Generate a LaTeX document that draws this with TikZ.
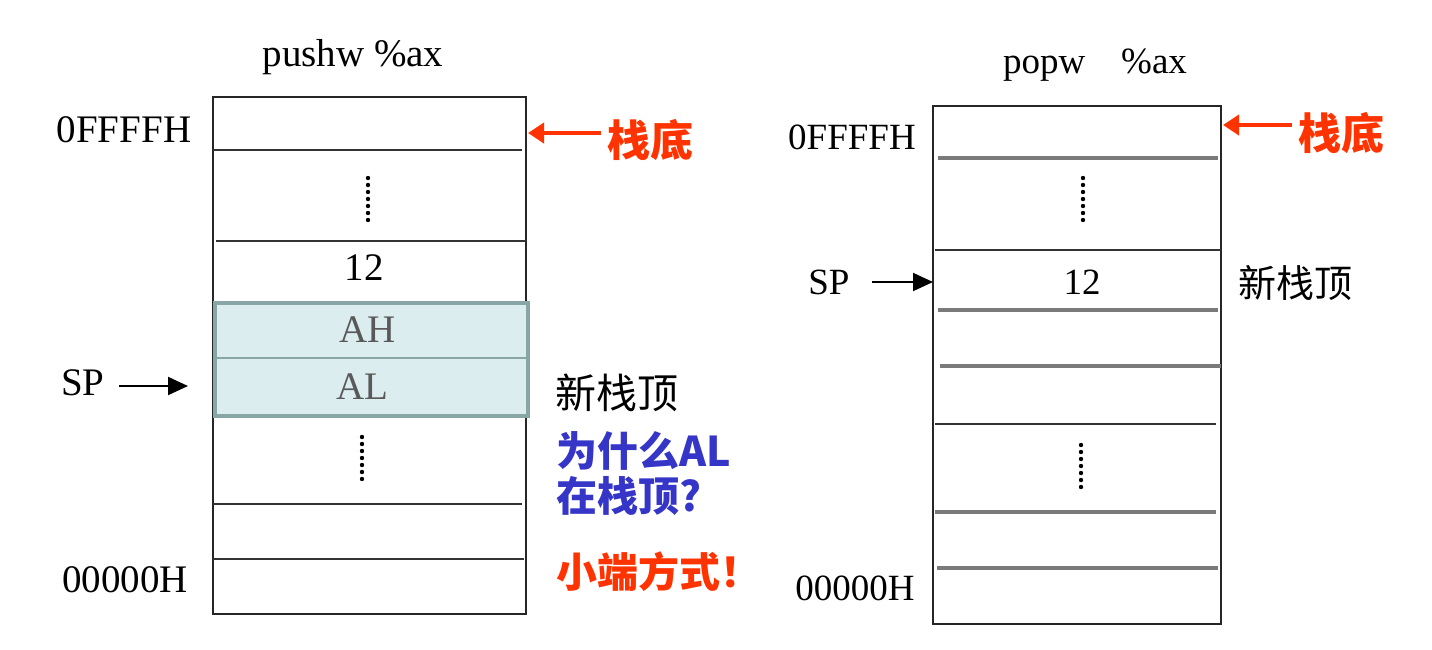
\documentclass[tikz,border=0pt]{standalone}
\usepackage{fontspec}
\setmainfont{Liberation Serif}
\newfontfamily\cjk{Noto Sans CJK SC}
\usetikzlibrary{arrows.meta}
\definecolor{stackred}{HTML}{FF3300}
\definecolor{askblue}{HTML}{3535C8}
\definecolor{cellfill}{HTML}{DCEDF0}
\definecolor{cellline}{HTML}{88A6A6}
\definecolor{linegray}{HTML}{7A7A7A}
\tikzset{
  frame/.style={line width=1.2pt, draw=black!85},
  sep/.style={line width=1.2pt, draw=black!80},
  sepgray/.style={line width=1.9pt, draw=linegray},
  vdots/.style={line width=2.2pt, line cap=round, dash pattern=on 0pt off 3.5pt},
  lblL/.style={inner sep=0pt, font=\fontsize{19.5}{21}\selectfont},
  lblR/.style={inner sep=0pt, font=\fontsize{18.5}{20}\selectfont},
  cjktxt/.style={inner sep=0pt, anchor=west, font=\cjk\fontsize{20.5}{22.5}\selectfont},
  note/.style={inner sep=0pt, anchor=west, align=left, font=\cjk\bfseries\fontsize{20.5}{22.5}\selectfont},
  sparrow/.style={line width=1pt, -{Triangle[length=10pt,width=9pt]}, shorten <=7pt},
  redarrow/.style={line width=2.4pt, draw=stackred, -{Triangle[length=8pt,width=10pt]}, shorten <=3pt}
}
\begin{document}
\begin{tikzpicture}[x=0.5pt,y=-0.5pt]
  \useasboundingbox (0,0) rectangle (1432,649);

  % pushw stack
  \draw[frame] (213,97) rectangle (526,614);
  \draw[sep] (213,150) -- (522,150);
  \draw[sep] (216,241) -- (526,241);
  \draw[sep] (213,504) -- (522,504);
  \draw[sep] (213,559) -- (524,559);
  \draw[fill=cellfill, draw=cellline, line width=1.7pt] (215,303) rectangle (528,416);
  \draw[draw=cellline, line width=1.1pt] (215,358) -- (528,358);
  \draw[vdots] (368,178) -- (368,226);
  \draw[vdots] (362,437) -- (362,485);
  \node[lblL] (valL) at (364,268) {12};
  \node[lblL, text=black!65] (ah) at (368,330) {AH};
  \node[lblL, text=black!65] (al) at (362,387) {AL};

  \node[lblL] (push) at (353,57) {pushw \%ax};
  \node[lblL] (topL) at (124,130) {0FFFFH};
  \node[lblL] (botL) at (125,580) {00000H};
  \node[lblL] (spL) at (83,383) {SP};
  \coordinate (spLtip) at (188,386);
  \draw[sparrow] (spL.east |- spLtip) -- (spLtip);

  \coordinate (baseL) at (528,133);
  \node[cjktxt, text=stackred, font=\cjk\bfseries\fontsize{21.5}{23}\selectfont] (baseLtxt) at (607,140) {栈底};
  \draw[redarrow] (baseL -| baseLtxt.west) -- (baseL);
  \node[cjktxt] (newL) at (555,393) {新栈顶};
  \node[note, text=askblue] (why) at (556,474) {为什么AL\\在栈顶?};
  \node[note, text=stackred] (little) at (556,572) {小端方式！};

  % popw stack
  \draw[frame] (933,106) rectangle (1221,624);
  \draw[sepgray] (938,158) -- (1218,158);
  \draw[sep] (935,250) -- (1221,250);
  \draw[sepgray] (938,310) -- (1218,310);
  \draw[sepgray] (940,366) -- (1221,366);
  \draw[sep] (935,424) -- (1216,424);
  \draw[sepgray] (935,512) -- (1216,512);
  \draw[sepgray] (937,568) -- (1218,568);
  \draw[vdots] (1083,178) -- (1083,226);
  \draw[vdots] (1081,445) -- (1081,492);
  \node[lblR] (valR) at (1082,282) {12};

  \node[lblR] (pop) at (1095,65) {popw\hspace{18pt}\%ax};
  \node[lblR] (topR) at (852,137) {0FFFFH};
  \node[lblR] (botR) at (855,588) {00000H};
  \node[lblR] (spR) at (829,282) {SP};
  \coordinate (spRtip) at (933,282);
  \draw[sparrow, shorten <=11pt] (spR.east |- spRtip) -- (spRtip);

  \coordinate (baseR) at (1223,125);
  \node[cjktxt, text=stackred, font=\cjk\bfseries\fontsize{21.5}{23}\selectfont] (baseRtxt) at (1298,133) {栈底};
  \draw[redarrow] (baseR -| baseRtxt.west) -- (baseR);
  \node[cjktxt, font=\cjk\fontsize{19}{21}\selectfont] (newR) at (1238,283) {新栈顶};
\end{tikzpicture}
\end{document}
